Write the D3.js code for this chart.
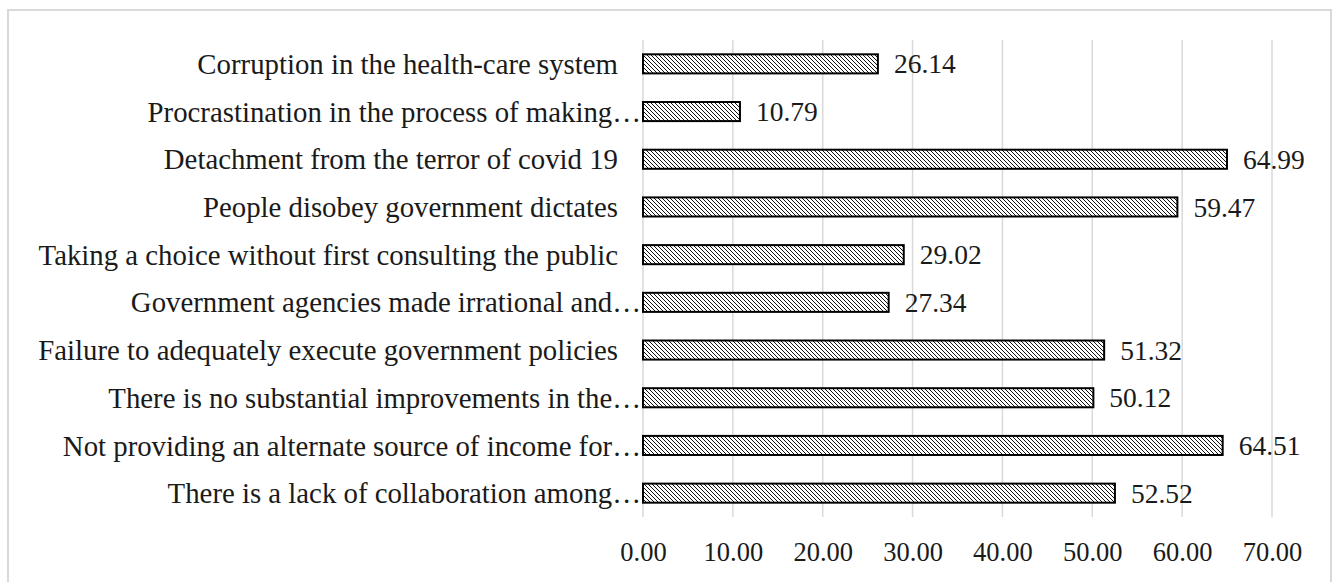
<!DOCTYPE html>
<html>
<head>
<meta charset="utf-8">
<script src="https://cdn.jsdelivr.net/npm/d3@7"></script>
<style>
  html, body { margin: 0; padding: 0; background: #fff; }
  svg { display: block; }
  text { font-family: "Liberation Serif", "Times New Roman", serif; fill: #1a1a1a; }
</style>
</head>
<body>
<svg id="chart" width="1336" height="582"></svg>
<script>
const categories = [
  "Corruption in the health-care system",
  "Procrastination in the process of making…",
  "Detachment from the terror of covid 19",
  "People disobey government dictates",
  "Taking a choice without first consulting the public",
  "Government agencies made irrational and…",
  "Failure to adequately execute government policies",
  "There is no substantial improvements in the…",
  "Not providing an alternate source of income for…",
  "There is a lack of collaboration among…"
];
const values = [26.14, 10.79, 64.99, 59.47, 29.02, 27.34, 51.32, 50.12, 64.51, 52.52];
const tickValues = [0, 10, 20, 30, 40, 50, 60, 70];

const svg = d3.select("#chart");
const plot = { left: 643, right: 1272, top: 40, bottom: 517 };

// outer border
svg.append("rect")
  .attr("x", 8).attr("y", 10)
  .attr("width", 1323).attr("height", 600)
  .attr("fill", "#fff")
  .attr("stroke", "#d9d9d9").attr("stroke-width", 2);

// hatch pattern
const defs = svg.append("defs");
const pat = defs.append("pattern")
  .attr("id", "hatch")
  .attr("patternUnits", "userSpaceOnUse")
  .attr("width", 4).attr("height", 4);
pat.append("rect").attr("width", 4).attr("height", 4).attr("fill", "#fff");
pat.append("path")
  .attr("d", "M-1,-1 L5,5 M-1,3 L1,5 M3,-1 L5,1")
  .attr("stroke", "#111").attr("stroke-width", 1.0);

const x = d3.scaleLinear().domain([0, 70]).range([plot.left, plot.right]);
const y = d3.scaleBand().domain(categories)
  .range([plot.top, plot.bottom])
  .paddingInner(0.6).paddingOuter(0.3);

// gridlines
svg.append("g").selectAll("line")
  .data(tickValues).join("line")
  .attr("x1", d => x(d)).attr("x2", d => x(d))
  .attr("y1", plot.top).attr("y2", plot.bottom)
  .attr("stroke", "#d9d9d9").attr("stroke-width", 1.5);

// x axis labels
const xAxis = d3.axisBottom(x).tickValues(tickValues)
  .tickFormat(d3.format(".2f")).tickSize(0).tickPadding(0);
const gx = svg.append("g").attr("transform", `translate(0,${plot.bottom + 25})`).call(xAxis);
gx.select(".domain").remove();
gx.selectAll("text")
  .attr("font-family", "Liberation Serif, Times New Roman, serif")
  .attr("font-size", 26.5).attr("fill", "#1a1a1a")
  .attr("dy", "0.71em");

// bars
svg.append("g").selectAll("rect")
  .data(values).join("rect")
  .attr("x", x(0))
  .attr("y", (d, i) => y(categories[i]))
  .attr("width", d => x(d) - x(0))
  .attr("height", y.bandwidth())
  .attr("fill", "url(#hatch)")
  .attr("stroke", "#000").attr("stroke-width", 2);

// value labels
svg.append("g").selectAll("text")
  .data(values).join("text")
  .attr("x", d => x(d) + 16)
  .attr("y", (d, i) => y(categories[i]) + y.bandwidth() / 2)
  .attr("dy", "0.35em")
  .attr("font-size", 27.5)
  .text(d => d.toFixed(2));

// category labels
svg.append("g").selectAll("text")
  .data(categories).join("text")
  .attr("x", d => d.endsWith("…") ? x(0) - 2 : x(0) - 25)
  .attr("y", d => y(d) + y.bandwidth() / 2)
  .attr("dy", "0.35em")
  .attr("text-anchor", "end")
  .attr("font-size", 28.8)
  .text(d => d);
</script>
</body>
</html>
